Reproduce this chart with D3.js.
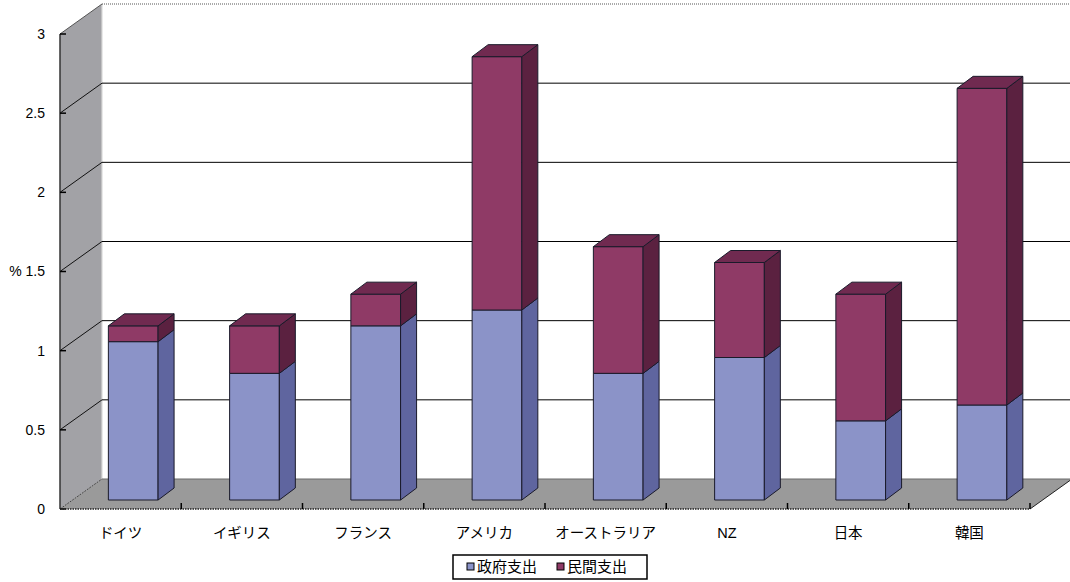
<!DOCTYPE html>
<html>
<head>
<meta charset="utf-8">
<script src="https://cdn.jsdelivr.net/npm/d3@7"></script>
<style>
  html, body { margin: 0; padding: 0; background: #fff; }
  svg { display: block; }
  text { font-family: "Liberation Sans", "Noto Sans CJK JP", sans-serif; fill: #000; }
</style>
</head>
<body>
<svg id="chart" width="1070" height="582"></svg>
<script>
// Spending share (%) by country, split into government and private
const categories = ["ドイツ", "イギリス", "フランス", "アメリカ", "オーストラリア", "NZ", "日本", "韓国"];
const govValues = [1.0, 0.8, 1.1, 1.2, 0.8, 0.9, 0.5, 0.6];
const privValues = [0.1, 0.3, 0.2, 1.6, 0.8, 0.6, 0.8, 2.0];
const seriesNames = ["政府支出", "民間支出"];
const yTicks = [0, 0.5, 1, 1.5, 2, 2.5, 3];
const yTickLabels = ["0", "0.5", "1", "% 1.5", "2", "2.5", "3"];

const svg = d3.select("#chart");

// front plane geometry
const left = 60, right = 1030, baseY = 509, topY = 34;
// depth of the chart box (walls / floor)
const DX = 42, DY = -30;
// depth offset where the bars' front faces sit, and bar thickness
const BX = 12.6, BY = -9;
const bdx = 16, bdy = -12;

const y = d3.scaleLinear().domain([0, 3]).range([baseY, topY]);
const x = d3.scaleBand().domain(categories).range([left, right])
  .paddingInner(0.59).paddingOuter(0.295);
const xAxisBand = d3.scaleBand().domain(categories).range([left, right]);

const colors = {
  gov: { front: "#8b93c8", side: "#5f659f", top: "#767dbb" },
  priv: { front: "#8f3a66", side: "#5b2140", top: "#702a50" }
};

// side wall
svg.append("path")
  .attr("d", `M${left},${y(3)}L${left + DX},${y(3) + DY}L${left + DX},${baseY + DY}L${left},${baseY}Z`)
  .attr("fill", "#a2a2a6");
svg.append("line")
  .attr("x1", left + DX).attr("x2", left + DX)
  .attr("y1", y(3) + DY).attr("y2", baseY + DY)
  .attr("stroke", "#d8d8d8").attr("stroke-width", 1.2);

// floor
svg.append("path")
  .attr("d", `M${left},${baseY}L${left + DX},${baseY + DY}L${right + DX},${baseY + DY}L${right},${baseY}Z`)
  .attr("fill", "#9a9a9a");

// gridlines on the back wall and their slants on the side wall
const grid = svg.append("g");
yTicks.forEach(t => {
  const yy = y(t);
  if (t < 3) {
    grid.append("line")
      .attr("x1", left + DX).attr("x2", 1070)
      .attr("y1", yy + DY).attr("y2", yy + DY)
      .attr("stroke", t === 0 ? "#6a6a6a" : "#000").attr("stroke-width", 1);
  }
  grid.append("line")
    .attr("x1", left).attr("y1", yy)
    .attr("x2", left + DX).attr("y2", yy + DY)
    .attr("stroke", t === 3 ? "#555" : (t === 0 ? "#444" : "#111"))
    .attr("stroke-width", 1)
    .attr("stroke-dasharray", t === 0 ? "2,1" : null);
});
// top edge of the back wall
grid.append("line")
  .attr("x1", left + DX).attr("x2", 1070)
  .attr("y1", y(3) + DY).attr("y2", y(3) + DY)
  .attr("stroke", "#555").attr("stroke-width", 1).attr("stroke-dasharray", "1,1");
// right edge of the floor
grid.append("line")
  .attr("x1", right).attr("y1", baseY)
  .attr("x2", right + DX).attr("y2", baseY + DY)
  .attr("stroke", "#222").attr("stroke-width", 1);

// value axis
const yAxis = svg.append("g");
yAxis.append("line")
  .attr("x1", left).attr("x2", left)
  .attr("y1", y(3)).attr("y2", baseY)
  .attr("stroke", "#333").attr("stroke-width", 1.5);
yTicks.forEach((t, i) => {
  yAxis.append("line")
    .attr("x1", left).attr("x2", left + 6)
    .attr("y1", y(t)).attr("y2", y(t))
    .attr("stroke", "#000").attr("stroke-width", 1.5);
  yAxis.append("text")
    .attr("x", 45).attr("y", y(t))
    .attr("dy", "0.35em")
    .attr("text-anchor", "end")
    .attr("font-size", 14)
    .text(yTickLabels[i]);
});

// category axis
const xAxis = svg.append("g");
xAxis.append("line")
  .attr("x1", left).attr("x2", right)
  .attr("y1", baseY).attr("y2", baseY)
  .attr("stroke", "#222").attr("stroke-width", 1.5).attr("stroke-dasharray", "1.5,1");
categories.forEach((c, i) => {
  const xe = xAxisBand(c) + xAxisBand.bandwidth();
  xAxis.append("line")
    .attr("x1", xe).attr("x2", xe)
    .attr("y1", baseY).attr("y2", baseY - 6)
    .attr("stroke", "#000").attr("stroke-width", 1.5);
  xAxis.append("text")
    .attr("x", xAxisBand(c) + xAxisBand.bandwidth() / 2)
    .attr("y", 533)
    .attr("dy", "0.35em")
    .attr("text-anchor", "middle")
    .attr("font-size", 14.5)
    .text(c);
});

// 3D stacked bars
const bars = svg.append("g");
const bw = x.bandwidth();
function drawBox(g, x0, v0, v1, col, withTop) {
  const xl = x0 + BX, xr = x0 + BX + bw;
  const yb = y(v0) + BY, yt = y(v1) + BY;
  const stroke = "#1a1a2a";
  g.append("path")
    .attr("d", `M${xl},${yb}L${xl},${yt}L${xr},${yt}L${xr},${yb}Z`)
    .attr("fill", col.front).attr("stroke", stroke).attr("stroke-width", 1);
  g.append("path")
    .attr("d", `M${xr},${yb}L${xr},${yt}L${xr + bdx},${yt + bdy}L${xr + bdx},${yb + bdy}Z`)
    .attr("fill", col.side).attr("stroke", stroke).attr("stroke-width", 1);
  if (withTop) {
    g.append("path")
      .attr("d", `M${xl},${yt}L${xl + bdx},${yt + bdy}L${xr + bdx},${yt + bdy}L${xr},${yt}Z`)
      .attr("fill", col.top).attr("stroke", stroke).attr("stroke-width", 1);
  }
}
categories.forEach((c, i) => {
  const g = bars.append("g");
  const x0 = x(c);
  drawBox(g, x0, 0, govValues[i], colors.gov, false);
  drawBox(g, x0, govValues[i], govValues[i] + privValues[i], colors.priv, true);
});

// legend
const legend = svg.append("g");
legend.append("rect")
  .attr("x", 453).attr("y", 555).attr("width", 194).attr("height", 24)
  .attr("fill", "#fff").attr("stroke", "#000").attr("stroke-width", 1.5);
const legendItems = [
  { name: seriesNames[0], color: colors.gov.front, x: 467 },
  { name: seriesNames[1], color: colors.priv.front, x: 557 }
];
legendItems.forEach(d => {
  legend.append("rect")
    .attr("x", d.x).attr("y", 563).attr("width", 7).attr("height", 7)
    .attr("fill", d.color).attr("stroke", "#000").attr("stroke-width", 1);
  legend.append("text")
    .attr("x", d.x + 10).attr("y", 567)
    .attr("dy", "0.35em")
    .attr("font-size", 15)
    .text(d.name);
});
</script>
</body>
</html>
